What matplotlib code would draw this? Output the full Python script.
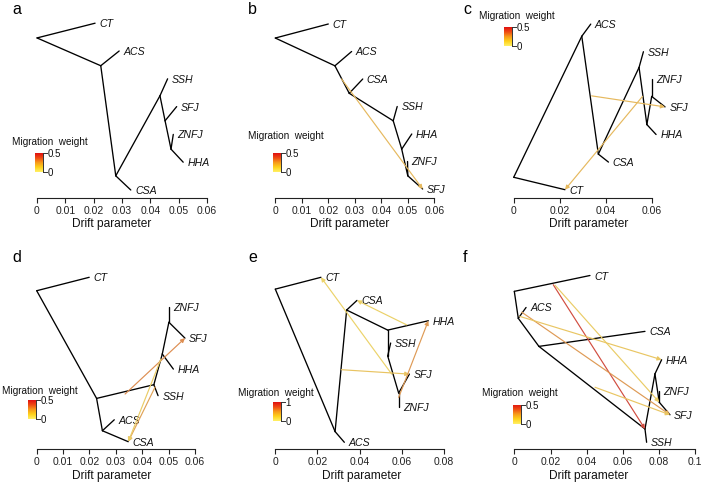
import numpy as np
import matplotlib
matplotlib.use("Agg")
import matplotlib.pyplot as plt
from matplotlib.colors import LinearSegmentedColormap

plt.rcParams['font.family'] = ['Liberation Sans', 'DejaVu Sans']

W, H = 704, 485

# ---------------- data ----------------
# panel a
A_NODE = ['root', 'CT', 'n1', 'ACS', 'n2', 'CSA', 'n3', 'SSH', 'n4', 'SFJ', 'n5', 'ZNFJ', 'HHA']
A_X = [0.0, 0.0205, 0.0225, 0.0290, 0.0278, 0.0331, 0.0434, 0.0461, 0.0452, 0.0493, 0.0473, 0.0481, 0.0516]
A_Y = [6.47, 7.0, 5.47, 6.0, 1.51, 1.0, 4.39, 5.0, 3.49, 4.0, 2.47, 3.0, 2.0]
A_EDGE = [('root', 'CT'), ('root', 'n1'), ('n1', 'ACS'), ('n1', 'n2'), ('n2', 'CSA'), ('n2', 'n3'),
          ('n3', 'SSH'), ('n3', 'n4'), ('n4', 'SFJ'), ('n4', 'n5'), ('n5', 'ZNFJ'), ('n5', 'HHA')]
A_MIG_X, A_MIG_Y, A_MIG_TO, A_MIG_W = [], [], [], []

# panel b
B_NODE = ['root', 'CT', 'n1', 'ACS', 'n2', 'CSA', 'n3', 'SSH', 'n4', 'HHA', 'n5', 'ZNFJ', 'SFJ']
B_X = [0.0, 0.0200, 0.0225, 0.0288, 0.0279, 0.0330, 0.0445, 0.0460, 0.0477, 0.0515, 0.0500, 0.0499, 0.0556]
B_Y = [6.49, 7.0, 5.48, 6.0, 4.48, 5.0, 3.48, 4.0, 2.45, 3.0, 1.48, 2.0, 1.0]
B_EDGE = [('root', 'CT'), ('root', 'n1'), ('n1', 'ACS'), ('n1', 'n2'), ('n2', 'CSA'), ('n2', 'n3'),
          ('n3', 'SSH'), ('n3', 'n4'), ('n4', 'HHA'), ('n4', 'n5'), ('n5', 'ZNFJ'), ('n5', 'SFJ')]
B_MIG_X = [0.0250]
B_MIG_Y = [5.0]
B_MIG_TO = ['SFJ']
B_MIG_W = [0.15]

# panel c
C_NODE = ['root', 'CT', 'n1', 'ACS', 'n2', 'CSA', 'n3', 'SSH', 'n4', 'HHA', 'n5', 'ZNFJ', 'SFJ']
C_X = [0.0, 0.0223, 0.0296, 0.0335, 0.0368, 0.0412, 0.0545, 0.0564, 0.0579, 0.0619, 0.0600, 0.0600, 0.0658]
C_Y = [1.45, 1.0, 6.56, 7.0, 2.29, 2.0, 5.43, 6.0, 3.36, 3.0, 4.38, 5.0, 4.0]
C_EDGE = [('root', 'CT'), ('root', 'n1'), ('n1', 'ACS'), ('n1', 'n2'), ('n2', 'CSA'), ('n2', 'n3'),
          ('n3', 'SSH'), ('n3', 'n4'), ('n4', 'HHA'), ('n4', 'n5'), ('n5', 'ZNFJ'), ('n5', 'SFJ')]
C_MIG_X = [0.0339, 0.0560]
C_MIG_Y = [4.40, 4.38]
C_MIG_TO = ['SFJ', 'CT']
C_MIG_W = [0.15, 0.15]

# panel d
D_NODE = ['root', 'CT', 'n1', 'n2', 'ACS', 'CSA', 'n3', 'SSH', 'n4', 'HHA', 'n5', 'ZNFJ', 'SFJ']
D_X = [0.0, 0.0199, 0.0227, 0.0249, 0.0294, 0.0347, 0.0444, 0.0460, 0.0476, 0.0518, 0.0501, 0.0501, 0.0562]
D_Y = [6.51, 7.0, 2.58, 1.40, 1.80, 1.0, 3.08, 2.68, 4.20, 3.65, 5.36, 5.93, 4.78]
D_EDGE = [('root', 'CT'), ('root', 'n1'), ('n1', 'n2'), ('n2', 'ACS'), ('n2', 'CSA'), ('n1', 'n3'),
          ('n3', 'SSH'), ('n3', 'n4'), ('n4', 'HHA'), ('n4', 'n5'), ('n5', 'ZNFJ'), ('n5', 'SFJ')]
D_MIG_X = [0.0335, 0.0449, 0.0471]
D_MIG_Y = [2.74, 3.0, 4.02]
D_MIG_TO = ['SFJ', 'CSA', 'CSA']
D_MIG_W = [0.28, 0.22, 0.08]

# panel e
E_NODE = ['root', 'CT', 'n1', 'ACS', 'n2', 'CSA', 'n3', 'HHA', 'n4', 'SSH', 'n5', 'SFJ', 'ZNFJ']
E_X = [0.0, 0.0217, 0.0284, 0.0328, 0.0339, 0.0388, 0.0534, 0.0727, 0.0534, 0.0548, 0.0586, 0.0637, 0.0586]
E_Y = [6.57, 7.0, 1.39, 1.0, 5.81, 6.16, 5.08, 5.42, 4.14, 4.61, 2.79, 3.48, 2.28]
E_EDGE = [('root', 'CT'), ('root', 'n1'), ('n1', 'ACS'), ('n1', 'n2'), ('n2', 'CSA'), ('n2', 'n3'),
          ('n3', 'HHA'), ('n3', 'n4'), ('n4', 'SSH'), ('n4', 'n5'), ('n5', 'SFJ'), ('n5', 'ZNFJ')]
E_MIG_X = [0.0553, 0.0624, 0.0314, 0.0586]
E_MIG_Y = [3.48, 5.27, 3.64, 2.63]
E_MIG_TO = ['CT', 'CSA', 'SFJ', 'HHA']
E_MIG_W = [0.10, 0.12, 0.22, 0.50]

# panel f
F_NODE = ['root', 'CT', 'n1', 'ACS', 'n2', 'CSA', 'n3', 'SSH', 'n4', 'HHA', 'n5', 'ZNFJ', 'SFJ']
F_X = [0.0, 0.0418, 0.0022, 0.0065, 0.0136, 0.0722, 0.0722, 0.0731, 0.0777, 0.0814, 0.0801, 0.0801, 0.0860]
F_Y = [6.43, 7.0, 5.46, 5.85, 4.45, 4.99, 1.48, 1.0, 3.46, 3.97, 2.44, 2.86, 1.99]
F_EDGE = [('root', 'CT'), ('root', 'n1'), ('n1', 'ACS'), ('n1', 'n2'), ('n2', 'CSA'), ('n2', 'n3'),
          ('n3', 'SSH'), ('n3', 'n4'), ('n4', 'HHA'), ('n4', 'n5'), ('n5', 'ZNFJ'), ('n5', 'SFJ')]
F_MIG_X = [0.0215, 0.0225, 0.0041, 0.0030, 0.0446]
F_MIG_Y = [6.67, 6.65, 5.68, 5.53, 2.98]
F_MIG_TO = ['n3', 'n5', 'SFJ', 'HHA', 'SFJ']
F_MIG_W = [0.45, 0.08, 0.25, 0.10, 0.10]

LEG_MAX = {'a': 0.5, 'b': 0.5, 'c': 0.5, 'd': 0.5, 'e': 1, 'f': 0.5}
XMAX = {'a': 0.06, 'b': 0.06, 'c': 0.06, 'd': 0.06, 'e': 0.08, 'f': 0.1}
XSTEP = {'a': 0.01, 'b': 0.01, 'c': 0.02, 'd': 0.01, 'e': 0.02, 'f': 0.02}

# ---------------- layout (pixels) ----------------
GEOM = {'a': (37.0, 207.0, 199, 191.0, 27.8),
        'b': (275.3, 434.3, 199, 190.0, 27.5),
        'c': (513.7, 651.7, 199, 190.7, 27.6),
        'd': (36.7, 195.0, 450, 442.7, 27.4),
        'e': (275.3, 443.7, 450, 443.3, 27.5),
        'f': (514.3, 695.3, 450, 443.3, 27.8)}
LETTER_POS = {'a': (12, 9), 'b': (248, 9), 'c': (463, 10), 'd': (12, 257), 'e': (248, 257), 'f': (463, 257)}
XLABEL_POS = {'a': (112, 227), 'b': (350, 227), 'c': (589, 227), 'd': (112, 479), 'e': (362, 479), 'f': (589, 479)}
LEG_POS = {'a': (12, 142, 34.5, 154, 8, 19),
           'b': (248, 136, 272.7, 154, 8, 19),
           'c': (479, 16, 504.3, 27.7, 8, 19),
           'd': (2, 391, 28.3, 401, 8, 19),
           'e': (238, 393, 272.7, 403.3, 8, 18.4),
           'f': (481.7, 393, 512.7, 405.7, 8, 19.3)}

cmap_bar = LinearSegmentedColormap.from_list('bar', ['#FFF066', '#FFD21A', '#F79A1A', '#EE4A14', '#E01010'])
cmap_line = LinearSegmentedColormap.from_list('line', ['#EEE070', '#E8C060', '#DE9A55', '#D96A4A', '#CC3A3A'])

fig = plt.figure(figsize=(W / 100, H / 100), dpi=100)


def px_axes(x, y_top, w, h):
    return fig.add_axes([x / W, 1 - (y_top + h) / H, w / W, h / H])


def panel(key, names, xs, ys, edges, mx, my, mto, mw):
    x0, x1, axp, pbot, sp = GEOM[key]
    top = 10
    ax = px_axes(x0, top, x1 - x0, axp - top)
    ax.set_xlim(0, XMAX[key])
    ax.set_ylim(1 + (pbot - axp) / sp, 1 + (pbot - top) / sp)
    ax.patch.set_alpha(0)
    for s in ['top', 'right', 'left']:
        ax.spines[s].set_visible(False)
    ax.spines['bottom'].set_linewidth(0.8)
    ax.spines['bottom'].set_color('#222222')
    ticks = np.round(np.arange(0, XMAX[key] + 1e-9, XSTEP[key]), 4)
    ax.set_xticks(ticks)
    ax.set_xticklabels(['%g' % t for t in ticks])
    ax.tick_params(axis='x', direction='out', length=3.6, width=0.8, pad=1.8,
                   labelsize=7.5, colors='#222222')
    ax.set_yticks([])
    pos = {n: (x, y) for n, x, y in zip(names, xs, ys)}
    for a, b in edges:
        ax.plot([pos[a][0], pos[b][0]], [pos[a][1], pos[b][1]], color='black', lw=0.95,
                solid_capstyle='round', clip_on=False, zorder=3)
    for n in names:
        if not n.startswith('n') and n != 'root':
            ax.annotate(n, pos[n], xytext=(3, 0), textcoords='offset points', va='center',
                        ha='left', fontsize=7.6, style='italic', color='#111111',
                        annotation_clip=False)
    for sx, sy, t, w in zip(mx, my, mto, mw):
        c = cmap_line(min(w / LEG_MAX[key], 1.0))
        ax.annotate('', xy=pos[t], xytext=(sx, sy),
                    arrowprops=dict(arrowstyle='-|>,head_length=0.6,head_width=0.3', color=c,
                                    lw=0.85, shrinkA=0, shrinkB=0, mutation_scale=4),
                    zorder=4, annotation_clip=False)
    lx, ly = LETTER_POS[key]
    fig.text(lx / W, 1 - ly / H, key, fontsize=11.5, ha='left', va='center')
    tx, ty = XLABEL_POS[key]
    fig.text(tx / W, 1 - ty / H, 'Drift parameter', fontsize=8.6, ha='center', va='baseline',
             color='#111111')
    lt_x, lt_y, bx, by, bw, bh = LEG_POS[key]
    fig.text(lt_x / W, 1 - lt_y / H, 'Migration  weight', fontsize=7.2, ha='left', va='center',
             color='#111111')
    lax = px_axes(bx, by, bw, bh)
    grad = np.linspace(1, 0, 100)[:, None]
    lax.imshow(grad, cmap=cmap_bar, aspect='auto', extent=[0, 1, 0, 1], vmin=0, vmax=1)
    lax.set_xlim(0, 1)
    lax.set_ylim(0, 1)
    lax.axis('off')
    lax.plot([1, 1], [0, 1], color='#333333', lw=0.7, clip_on=False)
    lax.plot([1, 1.5], [1, 1], color='#333333', lw=0.7, clip_on=False)
    lax.plot([1, 1.5], [0, 0], color='#333333', lw=0.7, clip_on=False)
    lax.text(1.6, 1, '%g' % LEG_MAX[key], fontsize=7, va='center', ha='left',
             transform=lax.transAxes, color='#111111')
    lax.text(1.6, 0, '0', fontsize=7, va='center', ha='left', transform=lax.transAxes,
             color='#111111')


panel('a', A_NODE, A_X, A_Y, A_EDGE, A_MIG_X, A_MIG_Y, A_MIG_TO, A_MIG_W)
panel('b', B_NODE, B_X, B_Y, B_EDGE, B_MIG_X, B_MIG_Y, B_MIG_TO, B_MIG_W)
panel('c', C_NODE, C_X, C_Y, C_EDGE, C_MIG_X, C_MIG_Y, C_MIG_TO, C_MIG_W)
panel('d', D_NODE, D_X, D_Y, D_EDGE, D_MIG_X, D_MIG_Y, D_MIG_TO, D_MIG_W)
panel('e', E_NODE, E_X, E_Y, E_EDGE, E_MIG_X, E_MIG_Y, E_MIG_TO, E_MIG_W)
panel('f', F_NODE, F_X, F_Y, F_EDGE, F_MIG_X, F_MIG_Y, F_MIG_TO, F_MIG_W)

fig.savefig('out.png', dpi=100)
